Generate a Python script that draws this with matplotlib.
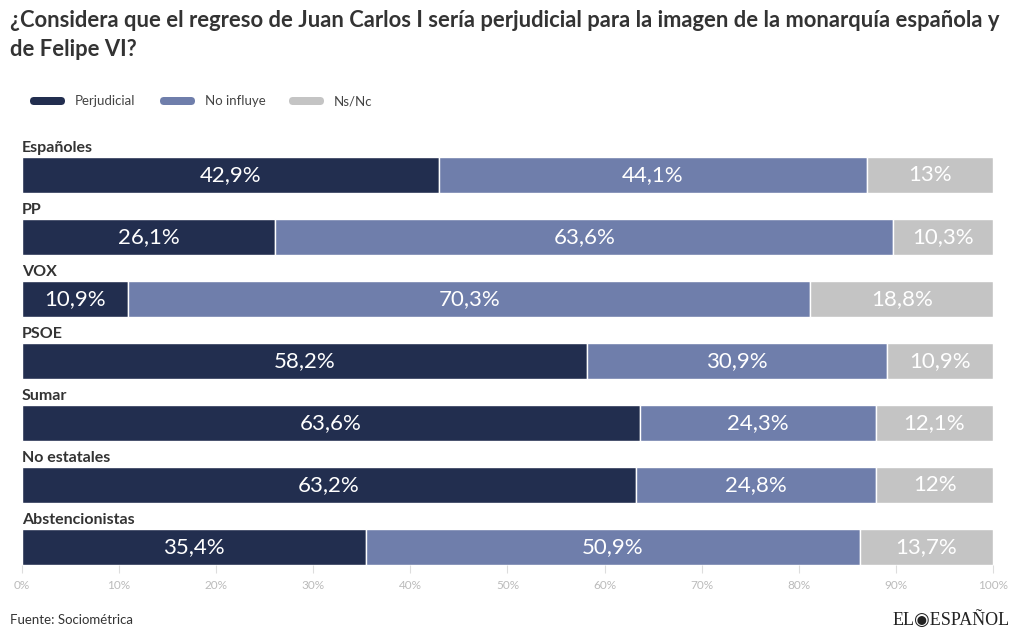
import matplotlib
matplotlib.use("Agg")
import matplotlib.pyplot as plt
from matplotlib.patches import FancyBboxPatch

plt.rcParams["font.family"] = ["Lato", "DejaVu Sans"]

# ----- data (%) -----
groups = ["Españoles", "PP", "VOX", "PSOE", "Sumar", "No estatales", "Abstencionistas"]
perjudicial = [42.9, 26.1, 10.9, 58.2, 63.6, 63.2, 35.4]
no_influye = [44.1, 63.6, 70.3, 30.9, 24.3, 24.8, 50.9]
ns_nc = [13, 10.3, 18.8, 10.9, 12.1, 12, 13.7]
series_names = ["Perjudicial", "No influye", "Ns/Nc"]
colors = ["#222e4f", "#6f7eab", "#c4c4c4"]
ticks = list(range(0, 101, 10))

W, H = 1020, 643
fig = plt.figure(figsize=(W / 100, H / 100), dpi=100)

# main bar axes, placed in pixel terms
x0, x1, ytop, ybot = 22, 993, 157, 565
ax = fig.add_axes([x0 / W, (H - ybot) / H, (x1 - x0) / W, (ybot - ytop) / H])
half = 0.29
ax.set_ylim(len(groups) - 1 + half, -half)
ax.set_xlim(0, 100)

def fmt(v):
    return f"{v:g}".replace(".", ",") + "%"

left = [0] * len(groups)
for vals, col in zip([perjudicial, no_influye, ns_nc], colors):
    ax.barh(range(len(groups)), vals, left=left, height=2 * half, color=col,
            edgecolor="white", linewidth=1)
    for i, v in enumerate(vals):
        ax.text(left[i] + v / 2, i, fmt(v), ha="center", va="center",
                color="white", fontsize=16)
    left = [l + v for l, v in zip(left, vals)]

for i, g in enumerate(groups):
    ax.text(0, i - half - 0.04, g, ha="left", va="bottom", fontsize=11.5,
            fontweight="bold", color="#333333")

for s in ax.spines.values():
    s.set_visible(False)
ax.set_yticks([])
ax.set_xticks(ticks)
ax.set_xticklabels([f"{t}%" for t in ticks], fontsize=8.5, color="#bbbbbb")
ax.tick_params(axis="x", length=6, width=0.8, color="#dddddd", pad=5)

# title
fig.text(10 / W, 1 - 10 / H,
         "¿Considera que el regreso de Juan Carlos I sería perjudicial para la imagen de la monarquía española y\nde Felipe VI?",
         ha="left", va="top", fontsize=15.8, fontweight="bold", color="#333333", linespacing=1.45)

# legend, drawn in pixel coords on an overlay
ov = fig.add_axes([0, 0, 1, 1], facecolor="none")
ov.set_xlim(0, W); ov.set_ylim(H, 0); ov.axis("off")
leg_x = [30, 160, 289]
for lx, name, col in zip(leg_x, series_names, colors):
    ov.add_patch(FancyBboxPatch((lx, 97), 35, 8, boxstyle="round,pad=0,rounding_size=4",
                                fc=col, ec="none"))
    ov.text(lx + 45, 101, name, ha="left", va="center", fontsize=9.5, color="#444444")

# footer
ov.text(10, 620, "Fuente: Sociométrica", ha="left", va="center", fontsize=9.5, color="#333333")
ov.text(1010, 620, "EL◉ESPAÑOL", ha="right", va="center", fontsize=13,
        family=["Liberation Serif", "DejaVu Serif"], color="#222222")

fig.savefig("out.png", dpi=100)
